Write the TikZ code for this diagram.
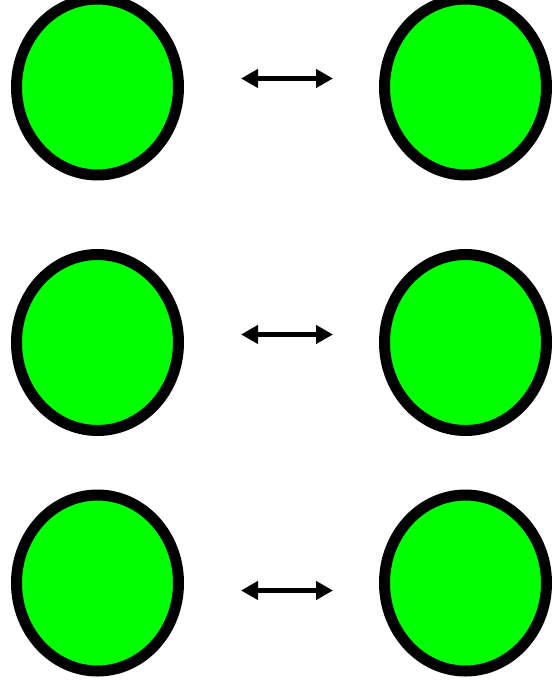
\documentclass[tikz,border=0pt]{standalone}
\usetikzlibrary{shapes.geometric, arrows.meta}

\tikzset{
    blob/.style={ellipse, draw=black, fill=green, line width=11pt,
        minimum width=162pt, minimum height=176pt, inner sep=0pt},
    swap/.style={{Triangle[length=17pt, width=18pt]}-{Triangle[length=17pt, width=18pt]}, line width=5.5pt},
}

\begin{document}
\begin{tikzpicture}[x=1pt, y=-1pt]
    \useasboundingbox (0,0) rectangle (551,690);

    \node[blob] (left1) at (97.5,87) {};
    \node[blob] (right1) at (465.5,87) {};
    \node[blob] (left2) at (97.5,342.5) {};
    \node[blob] (right2) at (465.5,342.5) {};
    \node[blob] (left3) at (97.5,583) {};
    \node[blob] (right3) at (465.5,583) {};

    \coordinate (a1) at (241,78.5);
    \coordinate (b1) at (333,78.5);
    \coordinate (a2) at (241,334.5);
    \coordinate (b2) at (333,334.5);
    \coordinate (a3) at (241,590.5);
    \coordinate (b3) at (333,590.5);

    \draw[swap] (a1) -- (b1);
    \draw[swap] (a2) -- (b2);
    \draw[swap] (a3) -- (b3);
\end{tikzpicture}
\end{document}
